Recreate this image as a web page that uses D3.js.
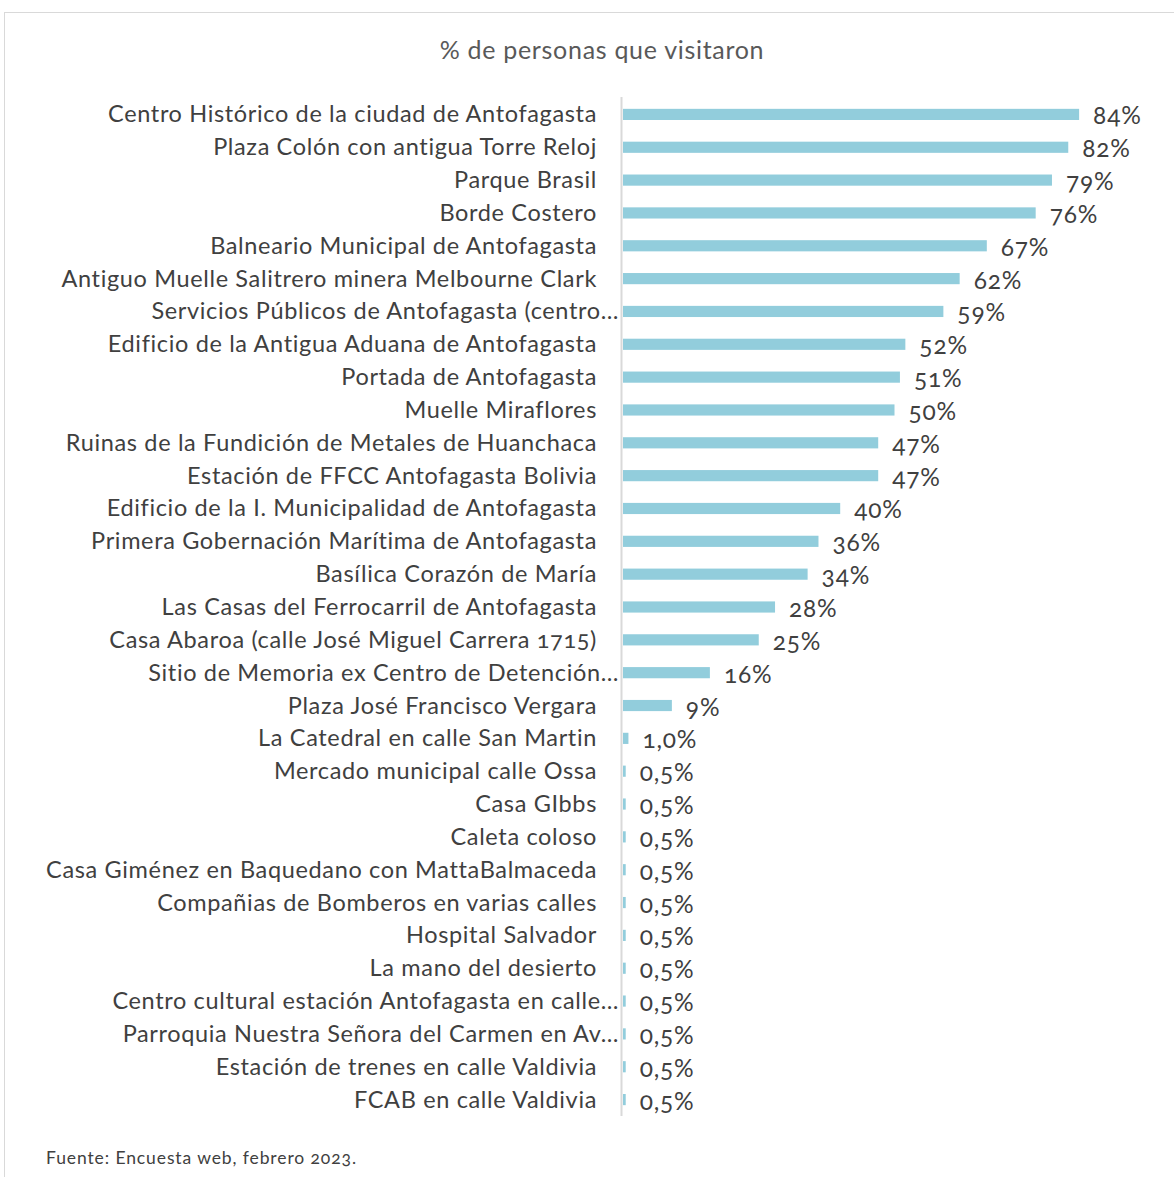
<!DOCTYPE html>
<html><head><meta charset="utf-8">
<script src="https://cdn.jsdelivr.net/npm/d3@7"></script>
<style>
html,body{margin:0;padding:0;background:#fff;}
svg text{font-family:Lato,"Open Sans",sans-serif;font-variant-numeric:oldstyle-nums;font-feature-settings:"onum" 1;}
</style></head>
<body>
<script>
const categories = [
  "Centro Histórico de la ciudad de Antofagasta",
  "Plaza Colón con antigua Torre Reloj",
  "Parque Brasil",
  "Borde Costero",
  "Balneario Municipal de Antofagasta",
  "Antiguo Muelle Salitrero minera Melbourne Clark",
  "Servicios Públicos de Antofagasta (centro…",
  "Edificio de la Antigua Aduana de Antofagasta",
  "Portada de Antofagasta",
  "Muelle Miraflores",
  "Ruinas de la Fundición de Metales de Huanchaca",
  "Estación de FFCC Antofagasta Bolivia",
  "Edificio de la I. Municipalidad de Antofagasta",
  "Primera Gobernación Marítima de Antofagasta",
  "Basílica Corazón de María",
  "Las Casas del Ferrocarril de Antofagasta",
  "Casa Abaroa (calle José Miguel Carrera 1715)",
  "Sitio de Memoria ex Centro de Detención…",
  "Plaza José Francisco Vergara",
  "La Catedral en calle San Martin",
  "Mercado municipal calle Ossa",
  "Casa GIbbs",
  "Caleta coloso",
  "Casa Giménez en Baquedano con MattaBalmaceda",
  "Compañias de Bomberos en varias calles",
  "Hospital Salvador",
  "La mano del desierto",
  "Centro cultural estación Antofagasta en calle…",
  "Parroquia Nuestra Señora del Carmen en Av…",
  "Estación de trenes en calle Valdivia",
  "FCAB en calle Valdivia"
];
const values = [84,82,79,76,67,62,59,52,51,50,47,47,40,36,34,28,25,16,9,1.0,0.5,0.5,0.5,0.5,0.5,0.5,0.5,0.5,0.5,0.5,0.5];
const valueLabels = ["84%","82%","79%","76%","67%","62%","59%","52%","51%","50%","47%","47%","40%","36%","34%","28%","25%","16%","9%","1,0%","0,5%","0,5%","0,5%","0,5%","0,5%","0,5%","0,5%","0,5%","0,5%","0,5%","0,5%"];
const title = "% de personas que visitaron";
const source = "Fuente: Encuesta web, febrero 2023.";

const W = 1174, H = 1177;
const svg = d3.select("body").append("svg").attr("width", W).attr("height", H);

// frame
svg.append("rect").attr("x", 4.5).attr("y", 12.5).attr("width", 1300).attr("height", 1300)
  .attr("fill", "none").attr("stroke", "#D9D9D9").attr("stroke-width", 1);

const x0 = 623;
const x = d3.scaleLinear().domain([0, 100]).range([x0, x0 + 543]);
const y = d3.scaleBand().domain(categories).range([98, 1116]).paddingInner(0.66).paddingOuter(0.33);

svg.append("text").attr("x", 602).attr("y", 59).attr("text-anchor", "middle")
  .attr("fill", "#595959").attr("font-size", 25).attr("letter-spacing", 0.7).text(title);

// bars
svg.selectAll("rect.bar").data(values).enter().append("rect").attr("class", "bar")
  .attr("x", x(0)).attr("y", (d, i) => y(categories[i]))
  .attr("width", d => x(d) - x(0)).attr("height", y.bandwidth())
  .attr("fill", "#92CDDC");

// axis line
svg.append("line").attr("x1", 621.5).attr("x2", 621.5).attr("y1", 97).attr("y2", 1116)
  .attr("stroke", "#D9D9D9").attr("stroke-width", 2);

// category labels
svg.selectAll("text.cat").data(categories).enter().append("text").attr("class", "cat")
  .attr("x", d => d.endsWith("…") ? 619 : 597)
  .attr("y", d => y(d) + y.bandwidth() / 2 + 8)
  .attr("text-anchor", "end").attr("fill", "#404040").attr("font-size", 23.5)
  .attr("letter-spacing", 0.65)
  .text(d => d);

// value labels
svg.selectAll("text.val").data(values).enter().append("text").attr("class", "val")
  .attr("x", d => x(d) + 14)
  .attr("y", (d, i) => y(categories[i]) + y.bandwidth() / 2 + 10)
  .attr("fill", "#404040").attr("font-size", 24.5).attr("letter-spacing", 0.8)
  .text((d, i) => valueLabels[i]);

svg.append("text").attr("x", 46).attr("y", 1164).attr("fill", "#404040").attr("font-size", 17.5)
  .attr("letter-spacing", 0.9)
  .text(source);
</script>
</body></html>
